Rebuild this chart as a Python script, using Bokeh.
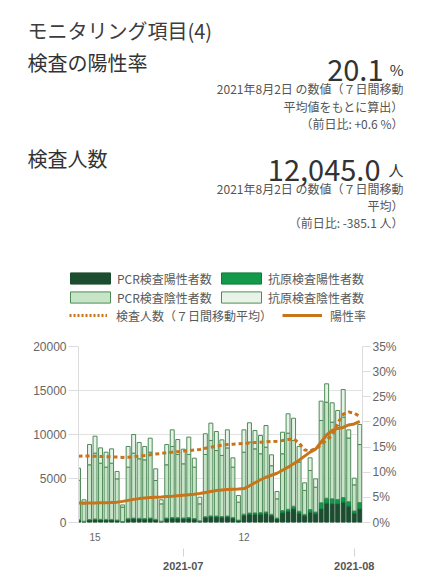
import pandas as pd
from bokeh.plotting import figure
from bokeh.layouts import column
from bokeh.core.properties import value
from bokeh.models import (ColumnDataSource, Range1d, LinearAxis, DatetimeAxis, FixedTicker,
                          PrintfTickFormatter, Legend, LegendItem)
from bokeh.embed import file_html
from bokeh.resources import INLINE

# ---------------- data ----------------
dates = pd.date_range("2021-06-12", "2021-08-02", freq="D")

pcr_pos = [250, 110, 280, 330, 300, 290, 290, 230, 90, 380,
           420, 400, 380, 420, 300, 120, 420, 480, 460, 430,
           470, 380, 150, 560, 640, 620, 580, 620, 480, 220,
           800, 900, 920, 940, 1000, 780, 420, 1100, 1250, 1550,
           1060, 760, 1170, 985, 1550, 2200, 2120, 2120, 2300, 1860,
           1060, 1550]
ag_pos = [60, 30, 60, 70, 60, 60, 60, 50, 20, 80,
          80, 80, 70, 80, 60, 30, 80, 90, 90, 80,
          90, 70, 40, 100, 110, 110, 100, 110, 90, 50,
          150, 170, 170, 180, 190, 150, 80, 250, 250, 300,
          220, 160, 300, 200, 690, 560, 570, 500, 540, 500,
          250, 720]
pcr_neg = [4490, 1980, 6220, 7480, 6380, 5940, 6390, 4680, 1640, 5830,
           7380, 6760, 6670, 7490, 4410, 1970, 6060, 8070, 7180, 6160,
           7170, 5840, 1930, 7070, 8570, 7450, 6940, 7750, 5720, 2040,
           7040, 8060, 7280, 6690, 7370, 5520, 2190, 6460, 8650, 7470,
           5570, 2720, 4440, 2825, 9350, 10910, 8710, 8400, 9130, 7240,
           2970, 6590]
ag_neg = [1370, 460, 2300, 1930, 1740, 1700, 1630, 840, 250, 2350,
          2120, 1850, 1520, 1590, 1330, 460, 2300, 1890, 1700, 1660,
          1970, 1020, 760, 2350, 1970, 2160, 1770, 2050, 1060, 760,
          2540, 2200, 2080, 2080, 2460, 1240, 830, 2450, 2200, 2530,
          1790, 870, 1440, 950, 2200, 2090, 2200, 1710, 3140, 930,
          760, 2280]
tests_avg = [7540, 7550, 7550, 7530, 7500, 7480, 7460, 7430, 7400, 7420,
             7480, 7550, 7620, 7700, 7780, 7850, 7920, 7990, 8050, 8120,
             8180, 8230, 8300, 8430, 8560, 8680, 8780, 8860, 8900, 8950,
             8990, 9030, 9080, 9130, 9170, 9200, 9240, 9320, 9430, 9500,
             9050, 8250, 8150, 8400, 8800, 9400, 9900, 11300, 12300, 12550,
             12430, 12045]
pos_rate = [3.9, 3.9, 3.9, 3.9, 3.95, 3.95, 4.0, 4.05, 4.2, 4.4,
            4.6, 4.75, 4.85, 4.95, 5.0, 5.05, 5.15, 5.2, 5.3, 5.4,
            5.5, 5.6, 5.75, 5.95, 6.15, 6.35, 6.45, 6.55, 6.6, 6.65,
            6.75, 7.3, 7.9, 8.5, 9.0, 9.4, 9.8, 10.4, 11.0, 11.7,
            12.4, 13.2, 14.0, 14.6, 16.0, 17.4, 18.3, 18.7, 18.9, 19.4,
            19.6, 20.1]

series_names = ["PCR検査陽性者数", "抗原検査陽性者数", "PCR検査陰性者数", "抗原検査陰性者数"]
line_names = ["検査人数（７日間移動平均）", "陽性率"]

day_ticks = ["2021-06-15", "2021-07-12"]
day_labels = ["15", "12"]
month_ticks = ["2021-07-01", "2021-08-01"]
month_labels = ["2021-07", "2021-08"]
left_ticks = [0, 5000, 10000, 15000, 20000]
right_ticks = [0, 5, 10, 15, 20, 25, 30, 35]

title_text = "モニタリング項目(4)"
head1 = "検査の陽性率"
head1_value = "20.1"
head1_unit = "%"
head1_notes = ["2021年8月2日 の数値（７日間移動", "平均値をもとに算出）", "（前日比: +0.6 %）"]
head2 = "検査人数"
head2_value = "12,045.0"
head2_unit = "人"
head2_notes = ["2021年8月2日 の数値（７日間移動", "平均）", "（前日比: -385.1 人）"]

# ---------------- styles ----------------
JP = "Noto Sans CJK JP"
AX = "Liberation Sans"
C_PCR_POS = "#1d4d30"
C_AG_POS = "#129a4a"
C_PCR_NEG = "#c6e4c6"
C_AG_NEG = "#e6f3e6"
C_EDGE = "#4f8a59"
C_ORANGE = "#c8741a"
GRID = "#e2e2e2"

W = 423
HH = 330            # header figure height (page y 0..330)
CH = 246            # chart figure height (page y 330..576)
FRAME_TOP, FRAME_BOT, FRAME_L, FRAME_R = 346, 522, 78, 362

fill_colors = [C_PCR_POS, C_AG_POS, C_PCR_NEG, C_AG_NEG]
edge_colors = [C_PCR_POS, "#0f7a3a", C_EDGE, C_EDGE]
NAN = float("nan")


def ms(d):
    return int(pd.Timestamp(d).value // 10**6)


# ================= header figure =================
hf = figure(width=W, height=HH, x_range=Range1d(0, W), y_range=Range1d(HH, 0),
            output_backend="svg", toolbar_location=None,
            min_border=0, min_border_left=0, min_border_right=0, min_border_top=0, min_border_bottom=0)
hf.frame_align = False
hf.axis.visible = False
hf.grid.visible = False
hf.outline_line_color = None
hf.background_fill_color = "white"
hf.border_fill_color = "white"


def txt(texts, xs, ys, size, color="#333333", align="left", baseline="middle"):
    hf.text(x=xs, y=ys, text=texts, text_font=value(JP), text_font_size=size,
            text_color=color, text_align=align, text_baseline=baseline)


txt([title_text], [27], [30], "20px", "#3c3c3c")
txt([head1, head2], [27, 27], [62, 158], "20px")
txt([head1_value], [383], [70], "29px", align="right", baseline="alphabetic")
txt([head1_unit], [403], [69], "15px", align="right", baseline="alphabetic")
txt([head2_value], [380], [170], "29px", align="right", baseline="alphabetic")
txt([head2_unit], [403], [169], "15px", align="right", baseline="alphabetic")
txt(head1_notes, [403] * 3, [88, 105.5, 122.5], "12px", "#555555", align="right")
txt(head2_notes, [403] * 3, [188, 205, 222], "12px", "#555555", align="right")

# legend swatches: renderers styled like the chart's, holding only a NaN (nothing drawn)
leg_rends = [hf.vbar(x=[NAN], top=[NAN], width=1, fill_color=fc, line_color=lc, line_width=1)
             for fc, lc in zip(fill_colors, edge_colors)]
leg_rends.append(hf.line(x=[NAN, NAN], y=[NAN, NAN], line_color=C_ORANGE, line_width=3,
                         line_dash="2 2"))
leg_rends.append(hf.line(x=[NAN, NAN], y=[NAN, NAN], line_color=C_ORANGE, line_width=3))
leg_labels = series_names + line_names


def add_leg(i, x0, yc, gw, standoff, h=17):
    lg = Legend(items=[LegendItem(label=leg_labels[i], renderers=[leg_rends[i]])],
                location=(x0, HH - yc - h / 2),
                orientation="horizontal", padding=0, margin=0, spacing=0,
                border_line_color=None, background_fill_alpha=0,
                glyph_width=gw, glyph_height=14, label_height=14,
                label_standoff=standoff, label_text_font=JP, label_text_font_size="12px",
                label_text_color="#595959")
    hf.add_layout(lg)


add_leg(0, 65, 278, 50, 2)
add_leg(1, 216, 278, 50, 2)
add_leg(2, 65, 297, 50, 2)
add_leg(3, 216, 297, 50, 2)
add_leg(4, 69, 315, 38, 9)
add_leg(5, 282, 315, 40, 8)

# ================= chart figure =================
src = ColumnDataSource(dict(date=dates, pcr_pos=pcr_pos, ag_pos=ag_pos, pcr_neg=pcr_neg,
                            ag_neg=ag_neg, tests_avg=tests_avg, pos_rate=pos_rate))

p = figure(width=W, height=CH, x_axis_type="datetime", output_backend="svg", toolbar_location=None,
           x_range=Range1d(pd.Timestamp("2021-06-12"), pd.Timestamp("2021-08-02 12:00")),
           y_range=Range1d(0, 20000),
           min_border_left=FRAME_L, min_border_right=W - FRAME_R,
           min_border_top=FRAME_TOP - HH, min_border_bottom=HH + CH - FRAME_BOT)
p.frame_align = False
p.outline_line_color = None
p.background_fill_color = "white"
p.border_fill_color = "white"
p.extra_y_ranges = {"rate": Range1d(0, 35)}
p.xgrid.visible = False
p.ygrid.grid_line_color = GRID
p.ygrid.ticker = FixedTicker(ticks=left_ticks)

bar_w = 0.72 * 86400000
bars = p.vbar_stack(["pcr_pos", "ag_pos", "pcr_neg", "ag_neg"], x="date", width=bar_w, source=src,
                    fill_color=fill_colors, line_color=edge_colors, line_width=1)
l_tests = p.line("date", "tests_avg", source=src, line_color=C_ORANGE, line_width=3, line_dash="4 3")
l_rate = p.line("date", "pos_rate", source=src, y_range_name="rate", line_color=C_ORANGE, line_width=3)


def style_axis(ax, tick_out):
    ax.axis_line_color = "#dcdcdc"
    ax.major_tick_line_color = "#dcdcdc"
    ax.major_tick_out = tick_out
    ax.major_tick_in = 0
    ax.minor_tick_line_color = None
    ax.major_label_text_color = "#666666"
    ax.major_label_text_font = AX
    ax.major_label_text_font_size = "12px"
    ax.major_label_standoff = 2


ya = p.yaxis[0]
ya.ticker = FixedTicker(ticks=left_ticks)
style_axis(ya, 10)

ra = LinearAxis(y_range_name="rate", ticker=FixedTicker(ticks=right_ticks),
                formatter=PrintfTickFormatter(format="%d%%"))
style_axis(ra, 8)
p.add_layout(ra, "right")

xa = p.xaxis[0]
xa.ticker = FixedTicker(ticks=[ms(d) for d in day_ticks])
xa.major_label_overrides = {ms(d): t for d, t in zip(day_ticks, day_labels)}
xa.axis_line_color = None
xa.major_tick_line_color = None
xa.major_tick_out = 0
xa.major_tick_in = 0
xa.minor_tick_line_color = None
xa.major_label_text_color = "#666666"
xa.major_label_text_font = AX
xa.major_label_text_font_size = "10px"
xa.major_label_standoff = 10

ma = DatetimeAxis(ticker=FixedTicker(ticks=[ms(d) for d in month_ticks]),
                  major_label_overrides={ms(d): t for d, t in zip(month_ticks, month_labels)})
ma.axis_line_color = None
ma.major_tick_line_color = "#d4d4d4"
ma.major_tick_in = -5
ma.major_tick_out = 13
ma.minor_tick_line_color = None
ma.major_label_text_color = "#555555"
ma.major_label_text_font = AX
ma.major_label_text_font_style = "bold"
ma.major_label_text_font_size = "11px"
ma.major_label_standoff = 5
p.add_layout(ma, "below")

layout = column(hf, p, spacing=0)
open("out.html", "w").write(file_html(layout, INLINE))
